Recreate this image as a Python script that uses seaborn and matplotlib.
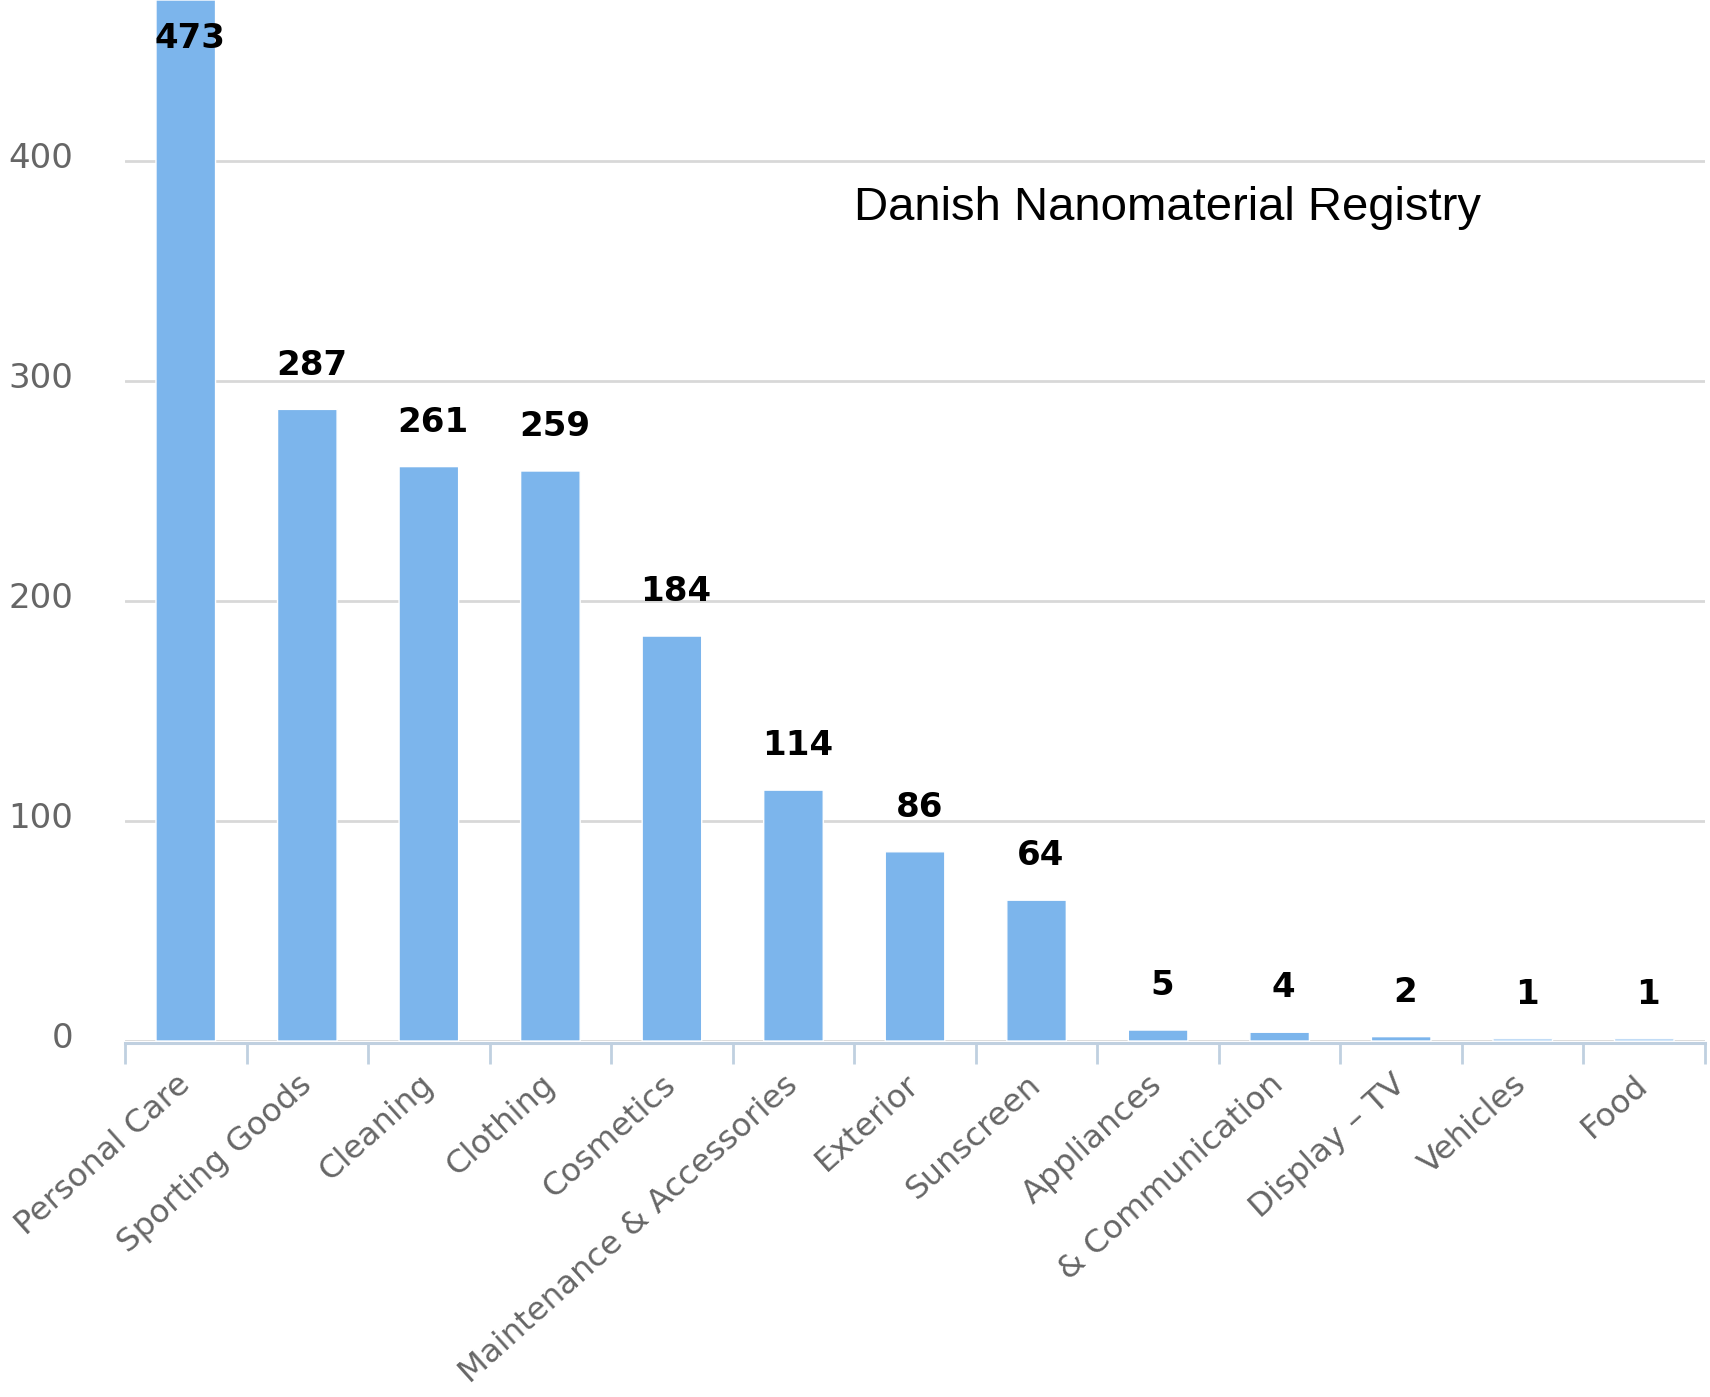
import numpy as np
import matplotlib
matplotlib.use("Agg")
import matplotlib.pyplot as plt
import matplotlib.transforms as mtransforms
import seaborn as sns

categories = [
    "Personal Care", "Sporting Goods", "Cleaning", "Clothing", "Cosmetics",
    "Maintenance & Accessories", "Exterior", "Sunscreen", "Appliances",
    "& Communication", "Display \u2013 TV", "Vehicles", "Food",
]
counts = [473, 287, 261, 259, 184, 114, 86, 64, 5, 4, 2, 1, 1]
y_ticks = [0, 100, 200, 300, 400]
title = "Danish Nanomaterial Registry"

BAR = "#7cb5ec"
GRID = "#d8d8d8"
AXIS = "#c0d0e0"
LABEL = "#666666"
Y_MAX = 473

sns.set_style("white")
plt.rcParams["font.family"] = ["DejaVu Sans"]

fig = plt.figure(figsize=(17.1, 13.97), dpi=100)
ax = fig.add_axes([0.0731, 0.2548, 0.9240, 0.7452])

sns.barplot(x=categories, y=counts, color=BAR, saturation=1, width=0.49,
            ax=ax, zorder=3)
for patch in ax.patches:
    patch.set_snap(False)

ax.set_xlim(-0.5, len(categories) - 0.5)
ax.set_ylim(0, Y_MAX)
ax.set_yticks(y_ticks)
ax.yaxis.grid(True, color=GRID, lw=2, zorder=0)
ax.xaxis.grid(False)
ax.set_axisbelow(True)
ax.set_xlabel("")
ax.set_ylabel("")

for side in ("left", "right", "top"):
    ax.spines[side].set_visible(False)
ax.spines["bottom"].set_color(AXIS)
ax.spines["bottom"].set_linewidth(2.2)
ax.spines["bottom"].set_position(("outward", 1.5))

# y labels: grey, no tick marks, nudged slightly above their grid lines
ax.tick_params(axis="y", left=False, length=0, pad=37, labelsize=24.5,
               labelcolor=LABEL)
nudge = mtransforms.ScaledTranslation(0, 4 / 72, fig.dpi_scale_trans)
for lab in ax.get_yticklabels():
    lab.set_transform(lab.get_transform() + nudge)

# x axis: tick marks sit between categories, labels rotated
ax.set_xticks(range(len(categories)))
ax.set_xticklabels(categories, rotation=42, ha="right", va="center",
                   rotation_mode="anchor")
ax.set_xticks(np.arange(-0.5, len(categories), 1), minor=True)
ax.tick_params(axis="x", which="minor", bottom=True, length=15, width=2,
               color=AXIS, direction="out")
ax.tick_params(axis="x", which="major", bottom=False, length=0, pad=27,
               labelsize=23.3, labelcolor=LABEL)

# value labels above each bar (inside the top when the bar is clipped)
for i, v in enumerate(counts):
    if v + 30 > Y_MAX:
        ax.annotate(f"{v}", xy=(i, Y_MAX), xytext=(3, -16),
                    textcoords="offset points", ha="center", va="top",
                    fontsize=24.5, fontweight="bold", color="black", zorder=5)
    else:
        ax.annotate(f"{v}", xy=(i, v), xytext=(3, 20),
                    textcoords="offset points", ha="center", va="bottom",
                    fontsize=24.5, fontweight="bold", color="black", zorder=5)

fig.text(1167 / 1710, 1 - 208 / 1397, title, fontsize=34,
         family=["Liberation Sans", "DejaVu Sans"], ha="center", va="center",
         color="black")

fig.savefig("out.png", dpi=100)
